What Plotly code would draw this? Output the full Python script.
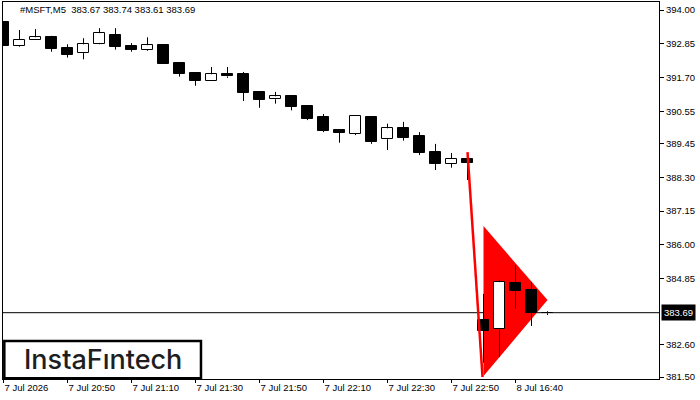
import plotly.graph_objects as go

# ---- data ----
opens  = [393.60, 392.78, 392.97, 393.07, 392.70, 392.53, 392.83, 393.14, 392.76, 392.65,
          392.81, 392.19, 391.85, 391.59, 391.82, 391.82, 391.21, 390.96, 391.07, 390.73,
          390.36, 389.91, 389.79, 390.36, 389.60, 389.98, 389.71, 389.16, 388.76, 388.93,
          383.44, 383.12, 384.70, 384.46, 383.67]
highs  = [393.60, 393.32, 393.35, 393.12, 392.83, 393.04, 393.38, 393.38, 392.87, 393.07,
          392.81, 392.19, 391.85, 392.06, 392.06, 391.89, 391.24, 391.21, 391.07, 390.73,
          390.46, 389.91, 390.39, 390.36, 390.13, 390.19, 389.84, 389.44, 389.13, 388.95,
          384.33, 384.80, 385.31, 384.74, 383.74]
lows   = [392.78, 392.75, 392.97, 392.58, 392.38, 392.32, 392.82, 392.65, 392.58, 392.61,
          392.17, 391.73, 391.42, 391.59, 391.69, 390.90, 390.67, 390.81, 390.58, 390.25,
          389.84, 389.48, 389.74, 389.44, 389.23, 389.55, 389.06, 388.55, 388.63, 388.21,
          381.99, 382.19, 383.83, 383.24, 383.61]
closes = [392.78, 392.98, 393.07, 392.68, 392.48, 392.83, 393.21, 392.74, 392.65, 392.80,
          392.17, 391.83, 391.59, 391.81, 391.74, 391.18, 390.94, 391.06, 390.71, 390.30,
          389.88, 389.82, 390.39, 389.50, 389.97, 389.65, 389.14, 388.75, 388.93, 388.80,
          383.08, 384.73, 384.44, 383.69, 383.69]

tick_pos = [0, 4, 8, 12, 16, 20, 24, 28, 32]
tick_labels = ["7 Jul 2026", "7 Jul 20:50", "7 Jul 21:10", "7 Jul 21:30", "7 Jul 21:50",
               "7 Jul 22:10", "7 Jul 22:30", "7 Jul 22:50", "8 Jul 16:40"]
price_ticks = [394.00, 392.85, 391.70, 390.55, 389.45, 388.30, 387.15, 386.00, 384.85,
               382.60, 381.50]
current_price = 383.69
header = "#MSFT,M5\u00a0\u00a0383.67 383.74 383.61 383.69"

# pennant pattern
pole_x = [29, 29.94]
pole_y = [389.16, 381.50]
pennant_x = [30, 30, 34]
pennant_y = [386.64, 381.53, 384.12]

x_range = [-0.03125, 40.96875]
y_range = [381.432, 394.2725]

FONT = "Liberation Sans, Arial, sans-serif"
n = len(opens)
idx = list(range(n))

fig = go.Figure()

# wicks (outside the bodies)
wx, wy = [], []
for i in idx:
    top = max(opens[i], closes[i])
    bot = min(opens[i], closes[i])
    if highs[i] > top:
        wx += [i, i, None]
        wy += [highs[i], top, None]
    if lows[i] < bot:
        wx += [i, i, None]
        wy += [bot, lows[i], None]
fig.add_trace(go.Scatter(x=wx, y=wy, mode="lines", line=dict(color="black", width=1),
                         hoverinfo="skip", showlegend=False))

# bodies
bases = [min(o, c) for o, c in zip(opens, closes)]
heights = [max(abs(c - o), 0.01) for o, c in zip(opens, closes)]
fills = ["white" if c >= o else "black" for o, c in zip(opens, closes)]
fig.add_trace(go.Bar(x=idx, y=heights, base=bases, width=0.64,
                     marker=dict(color=fills, line=dict(color="black", width=1)),
                     cliponaxis=False, hoverinfo="skip", showlegend=False))

# pole
fig.add_trace(go.Scatter(x=pole_x, y=pole_y, mode="lines",
                         line=dict(color="#ff0000", width=2.5),
                         hoverinfo="skip", showlegend=False))

fig.update_layout(
    width=700, height=400,
    margin=dict(l=3, r=41, t=2, b=21, pad=0),
    paper_bgcolor="white", plot_bgcolor="white",
    barmode="overlay", bargap=0,
    font=dict(family=FONT, size=9.5, color="black"),
    xaxis=dict(range=x_range, showgrid=False, zeroline=False,
               tickmode="array", tickvals=tick_pos, ticktext=tick_labels,
               ticks="outside", ticklen=3, tickcolor="black",
               ticklabelposition="outside right",
               showline=True, linecolor="black", linewidth=1, mirror=True,
               tickfont=dict(family=FONT, size=9.5, color="black")),
    yaxis=dict(range=y_range, side="right", showgrid=False, zeroline=False,
               tickmode="array", tickvals=price_ticks,
               ticktext=[f"{v:.2f}" for v in price_ticks],
               ticks="outside", ticklen=4, tickcolor="black",
               showline=True, linecolor="black", linewidth=1, mirror=True,
               tickfont=dict(family=FONT, size=9.5, color="black")),
    showlegend=False,
)

# pennant triangle (below traces)
tri_path = "M " + " L ".join(f"{x},{y}" for x, y in zip(pennant_x, pennant_y)) + " Z"
fig.add_shape(type="path", path=tri_path, xref="x", yref="y", fillcolor="#ff0000",
              line=dict(color="#ff0000", width=0), layer="below")

# current price line (below traces, above triangle)
fig.add_shape(type="line", xref="paper", yref="y", x0=0, x1=1, y0=current_price,
              y1=current_price, line=dict(color="black", width=1), layer="below")

# current price label
fig.add_annotation(xref="paper", yref="y", x=1, y=current_price, xanchor="left",
                   yanchor="middle", xshift=2, text="383.69", showarrow=False,
                   bgcolor="black", font=dict(family=FONT, size=9.5, color="white"),
                   borderpad=2)

# header
fig.add_annotation(xref="paper", yref="paper", x=0.0229, y=0.979, xanchor="left",
                   yanchor="middle", text=header, showarrow=False,
                   font=dict(family=FONT, size=9.5, color="black"))

# logo box
fig.add_shape(type="rect", xref="paper", yref="paper", x0=0.002, x1=0.3018, y0=0.002,
              y1=0.1008, line=dict(color="black", width=2.5), fillcolor="white",
              layer="above")
fig.add_annotation(xref="paper", yref="paper", x=0.152, y=0.051, xanchor="center",
                   yanchor="middle", text="InstaF\u0131ntech", showarrow=False,
                   font=dict(family="Inter, sans-serif", size=27, color="#1e1e1e",
                             weight=500))

fig.write_html("out.html")
